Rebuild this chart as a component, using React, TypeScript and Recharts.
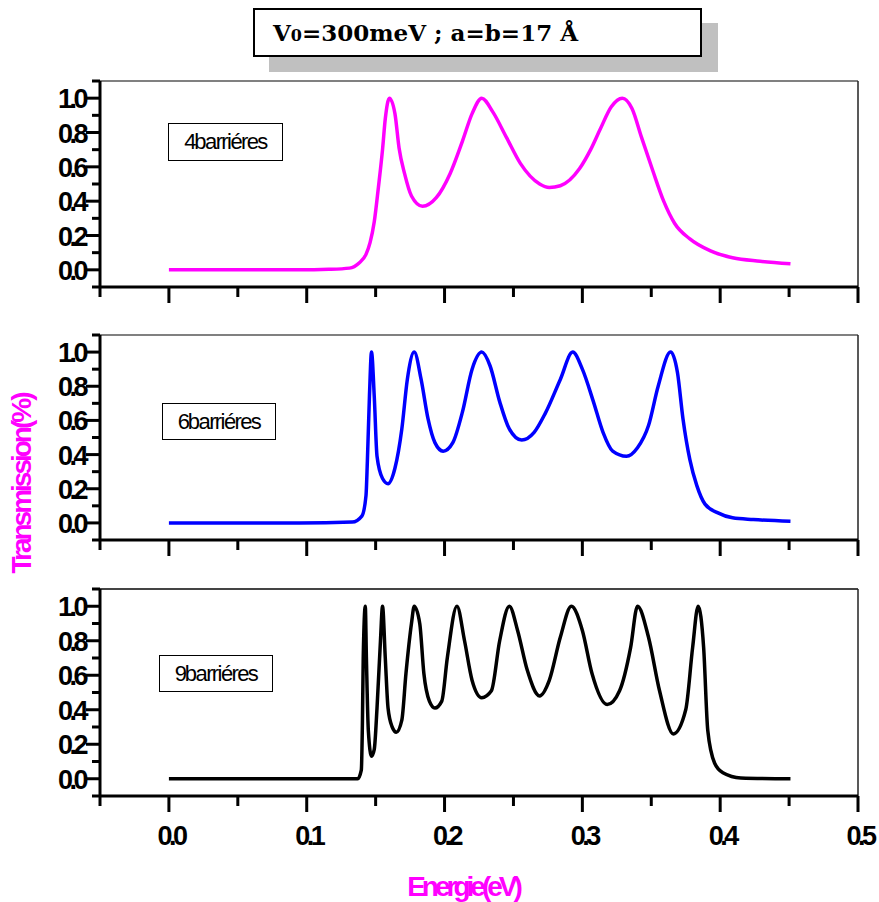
import React from 'react';
import { LineChart, Line, XAxis, YAxis, ReferenceLine } from 'recharts';

// energy (eV) / transmission
const energy4 = [0, 0.0945, 0.116, 0.131, 0.138, 0.143, 0.146, 0.149, 0.152, 0.155, 0.157, 0.16, 0.164, 0.167, 0.171, 0.176, 0.184, 0.194, 0.204, 0.213, 0.22, 0.227, 0.235, 0.245, 0.255, 0.269, 0.276, 0.284, 0.298, 0.306, 0.313, 0.321, 0.329, 0.336, 0.343, 0.351, 0.359, 0.367, 0.378, 0.393, 0.409, 0.429, 0.451];
const trans4 = [0, 0, 0.003, 0.01, 0.04, 0.09, 0.16, 0.28, 0.48, 0.7, 0.88, 1.0, 0.91, 0.71, 0.56, 0.43, 0.37, 0.42, 0.56, 0.75, 0.91, 1.0, 0.92, 0.77, 0.62, 0.5, 0.48, 0.49, 0.59, 0.7, 0.82, 0.95, 1.0, 0.94, 0.77, 0.58, 0.4, 0.27, 0.18, 0.11, 0.07, 0.05, 0.035];

const energy6 = [0, 0.0945, 0.133, 0.14, 0.143, 0.144, 0.1455, 0.147, 0.149, 0.151, 0.155, 0.159, 0.164, 0.169, 0.173, 0.178, 0.183, 0.188, 0.193, 0.199, 0.206, 0.213, 0.22, 0.227, 0.233, 0.24, 0.247, 0.256, 0.265, 0.273, 0.284, 0.293, 0.3, 0.308, 0.315, 0.322, 0.332, 0.34, 0.348, 0.355, 0.364, 0.369, 0.373, 0.378, 0.383, 0.389, 0.398, 0.409, 0.424, 0.451];
const trans6 = [0, 0, 0.005, 0.04, 0.16, 0.36, 0.74, 1.0, 0.74, 0.39, 0.26, 0.23, 0.32, 0.55, 0.84, 1.0, 0.84, 0.61, 0.47, 0.42, 0.47, 0.65, 0.9, 1.0, 0.92, 0.71, 0.55, 0.485, 0.53, 0.64, 0.84, 1.0, 0.9, 0.71, 0.53, 0.42, 0.39, 0.44, 0.57, 0.8, 1.0, 0.88, 0.61, 0.37, 0.22, 0.11, 0.06, 0.03, 0.02, 0.01];

const energy9 = [0, 0.0945, 0.137, 0.1396, 0.1404, 0.141, 0.1425, 0.1433, 0.1447, 0.147, 0.149, 0.151, 0.1535, 0.155, 0.157, 0.159, 0.162, 0.165, 0.169, 0.172, 0.176, 0.178, 0.182, 0.185, 0.189, 0.193, 0.198, 0.202, 0.209, 0.2145, 0.22, 0.227, 0.234, 0.24, 0.247, 0.253, 0.26, 0.269, 0.276, 0.284, 0.292, 0.3, 0.307, 0.318, 0.327, 0.335, 0.34, 0.348, 0.356, 0.366, 0.375, 0.38, 0.384, 0.388, 0.391, 0.396, 0.402, 0.415, 0.451];
const trans9 = [0, 0, 0, 0.05, 0.32, 0.7, 1.0, 0.7, 0.28, 0.13, 0.17, 0.41, 0.8, 1.0, 0.7, 0.41, 0.3, 0.27, 0.34, 0.61, 0.9, 1.0, 0.9, 0.61, 0.45, 0.41, 0.45, 0.7, 1.0, 0.8, 0.57, 0.47, 0.51, 0.8, 1.0, 0.86, 0.63, 0.48, 0.57, 0.82, 1.0, 0.86, 0.61, 0.43, 0.51, 0.76, 1.0, 0.82, 0.51, 0.26, 0.4, 0.76, 1.0, 0.76, 0.28, 0.09, 0.035, 0.005, 0];

const xTicks = [-0.05, 0, 0.05, 0.1, 0.15, 0.2, 0.25, 0.3, 0.35, 0.4, 0.45, 0.5];
const yTicks = [-0.1, 0, 0.1, 0.2, 0.3, 0.4, 0.5, 0.6, 0.7, 0.8, 0.9, 1.0, 1.1];
const majorX = [0, 0.1, 0.2, 0.3, 0.4, 0.5];
const majorY = [0, 0.2, 0.4, 0.6, 0.8, 1.0];

const toRows = (xs: number[], ys: number[]) => xs.map((e, i) => ({ e, t: ys[i] }));

const tickFont = { fontFamily: '"Liberation Sans", Arial, sans-serif', fontWeight: 700, fontSize: 27, letterSpacing: -3.5 };

function XTick({ x, y, payload, showLabel }: any) {
  const v = payload.value;
  const major = majorX.some((m) => Math.abs(m - v) < 1e-6);
  return (
    <g>
      <line x1={x} x2={x} y1={y} y2={y + (major ? 16 : 10)} stroke="#000" strokeWidth={3} />
      {showLabel && major && (
        <text x={x + 2} y={y + 49} textAnchor="middle" fill="#000" style={tickFont}>
          {v.toFixed(1)}
        </text>
      )}
    </g>
  );
}

function YTick({ x, y, payload }: any) {
  const v = payload.value;
  const major = majorY.some((m) => Math.abs(m - v) < 1e-6);
  return (
    <g>
      <line x1={x - (major ? 14 : 8)} x2={x} y1={y} y2={y} stroke="#000" strokeWidth={3} />
      {major && (
        <text x={x - 15} y={y + 10} textAnchor="end" fill="#000" style={tickFont}>
          {v.toFixed(1)}
        </text>
      )}
    </g>
  );
}

function Panel({ top, plotH, rows, color, last, topColor }: any) {
  const xH = last ? 60 : 20;
  return (
    <div style={{ position: 'absolute', left: 0, top }}>
      <LineChart
        width={879}
        height={10 + plotH + xH}
        data={rows}
        margin={{ top: 10, right: 21, left: 0, bottom: 0 }}
      >
        <XAxis
          type="number"
          dataKey="e"
          domain={[-0.05, 0.5]}
          ticks={xTicks}
          interval={0}
          height={xH}
          tickSize={0}
          tickMargin={0}
          tickLine={false}
          axisLine={{ stroke: '#000', strokeWidth: 3 }}
          tick={<XTick showLabel={last} />}
          allowDataOverflow
        />
        <YAxis
          type="number"
          domain={[-0.1, 1.1]}
          ticks={yTicks}
          interval={0}
          width={100}
          tickSize={0}
          tickMargin={0}
          tickLine={false}
          axisLine={{ stroke: '#000', strokeWidth: 3 }}
          tick={<YTick />}
          allowDataOverflow
        />
        <ReferenceLine y={1.1} stroke={topColor} strokeWidth={2} />
        <ReferenceLine x={0.5} stroke="#222" strokeWidth={1.5} />
        <Line
          type="monotone"
          dataKey="t"
          stroke={color}
          strokeWidth={3.5}
          dot={false}
          isAnimationActive={false}
        />
      </LineChart>
    </div>
  );
}

const boxLabel: React.CSSProperties = {
  position: 'absolute',
  border: '1.5px solid #000',
  background: '#fff',
  boxSizing: 'border-box',
  display: 'flex',
  alignItems: 'center',
  justifyContent: 'center',
  fontFamily: '"Liberation Sans", Arial, sans-serif',
  fontSize: 22,
  letterSpacing: -1.6,
  wordSpacing: -5,
  color: '#000',
};

export default function App() {
  return (
    <div style={{ position: 'absolute', left: 0, top: 0, width: 879, height: 902, background: '#fff', overflow: 'hidden' }}>
      <Panel top={71} plotH={206} rows={toRows(energy4, trans4)} color="#ff00ff" topColor="#808080" />
      <Panel top={325} plotH={205} rows={toRows(energy6, trans6)} color="#0000ff" topColor="#808080" />
      <Panel top={579} plotH={207} rows={toRows(energy9, trans9)} color="#000000" topColor="#444" last />

      <div style={{ ...boxLabel, left: 168, top: 123, width: 115, height: 38 }}>4 barriéres</div>
      <div style={{ ...boxLabel, left: 162, top: 403, width: 114, height: 37 }}>6 barriéres</div>
      <div style={{ ...boxLabel, left: 159, top: 655, width: 114, height: 37 }}>9 barriéres</div>

      {/* title box with drop shadow */}
      <div
        style={{
          position: 'absolute',
          left: 253,
          top: 8,
          width: 449,
          height: 49,
          boxSizing: 'border-box',
          border: '2px solid #000',
          background: '#fff',
          boxShadow: '16px 15px 0 #c0c0c0',
          fontFamily: '"DejaVu Serif", "Liberation Serif", serif',
          fontWeight: 700,
          fontSize: 23,
          color: '#000',
          paddingLeft: 18,
          lineHeight: '45px',
          whiteSpace: 'nowrap',
        }}
      >
        V<span style={{ fontSize: 16 }}>0</span>=300meV ; a=b=17 Å
      </div>

      <div
        style={{
          position: 'absolute',
          left: 22,
          top: 484,
          transform: 'translate(-50%, -50%) rotate(-90deg)',
          fontFamily: '"Liberation Sans", Arial, sans-serif',
          fontWeight: 700,
          fontSize: 28,
          letterSpacing: -3,
          color: '#ff00ff',
          whiteSpace: 'nowrap',
        }}
      >
        Transmission(%)
      </div>

      <div
        style={{
          position: 'absolute',
          left: 463,
          top: 887,
          transform: 'translate(-50%, -50%)',
          fontFamily: '"Liberation Sans", Arial, sans-serif',
          fontWeight: 700,
          fontSize: 28,
          letterSpacing: -4,
          color: '#ff00ff',
          whiteSpace: 'nowrap',
        }}
      >
        Energie(eV)
      </div>
    </div>
  );
}
